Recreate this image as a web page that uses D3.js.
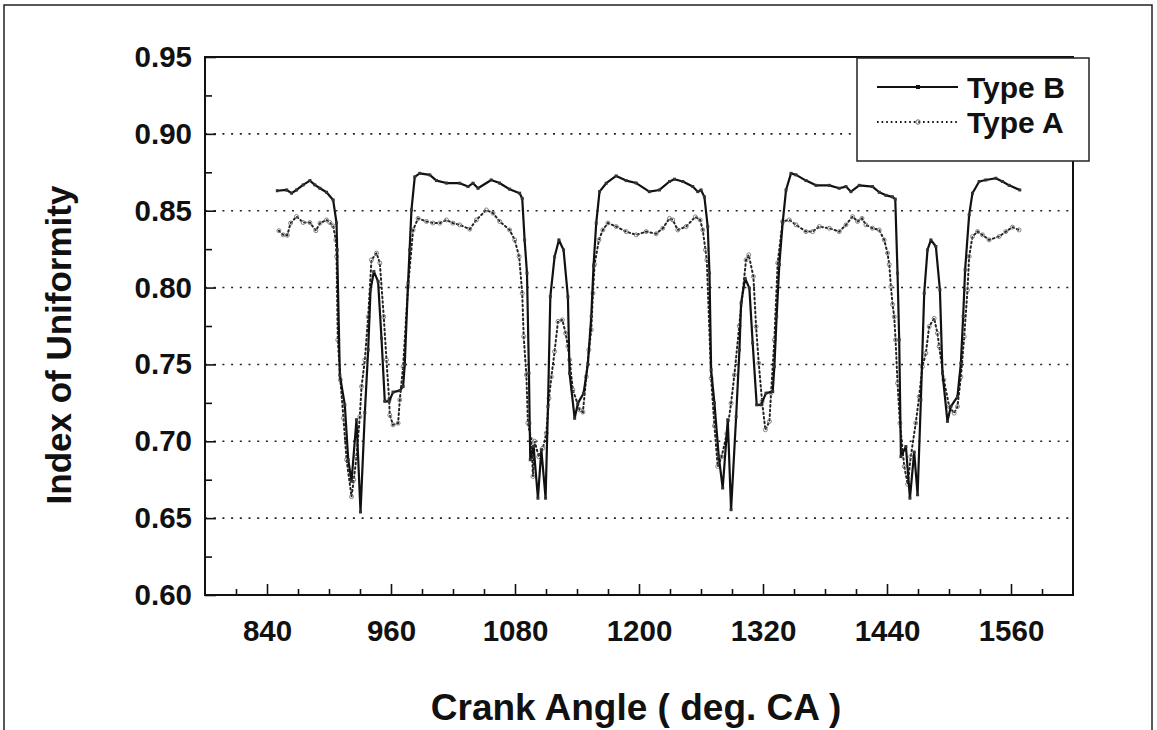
<!DOCTYPE html>
<html>
<head>
<meta charset="utf-8">
<script src="https://cdn.jsdelivr.net/npm/d3@7/dist/d3.min.js"></script>
<style>
  html, body { margin: 0; padding: 0; background: #fff; }
  svg text { font-family: "Liberation Sans", Arial, Helvetica, sans-serif; font-weight: bold; fill: #111; }
</style>
</head>
<body>
<svg id="chart" width="1157" height="730"></svg>
<script>
// ---------------- data ----------------
const seriesNames = ["Type B", "Type A"];

const typeB_angle = [850,859,863.8,868.6,875,881.5,886.3,891.2,897.6,904,907.3,907.9,910.5,915.3,918.6,921.8,926.6,930.5,934.7,937.9,940.2,943.4,947.5,950.8,954,958.2,962,968.5,971.7,973.3,976.5,978,979.8,983,987.8,997.5,1004,1013.6,1026.5,1034.5,1039.4,1044.2,1057,1065,1074.8,1084.5,1087,1089.3,1091.6,1093.5,1094.2,1094.8,1098,1102.2,1105.5,1109.6,1111.9,1114.2,1118.3,1122.5,1127,1131.2,1132.8,1137.7,1140.9,1146.4,1150.5,1153.8,1156,1158.6,1161.8,1168.3,1177.9,1187.6,1197.3,1210,1219.8,1229.5,1234.3,1242.4,1252,1256.9,1260,1263.3,1266.5,1268.2,1269.8,1273,1277.2,1281,1285.9,1289.1,1294,1297.2,1298.8,1302.7,1306.8,1310,1313.9,1318.1,1322.9,1329.4,1331,1333.2,1335.8,1339,1342.3,1347.1,1352,1361.6,1371.3,1384.2,1393.8,1400.3,1405.1,1413.2,1426,1432.5,1439,1445.3,1448,1450.2,1451.8,1453.5,1458.3,1462.2,1466.3,1469.6,1472.8,1476,1479.2,1482.5,1487.3,1491.2,1493.7,1498.5,1501.8,1508.2,1511.5,1513.7,1515.6,1519.5,1522.7,1529.2,1535.6,1545.3,1551.7,1558.2,1568.5];
const typeB_value = [0.863,0.8635,0.8614,0.8635,0.8668,0.8696,0.8668,0.8646,0.862,0.857,0.842,0.8245,0.743,0.7237,0.688,0.674,0.714,0.654,0.7186,0.7595,0.7985,0.8104,0.804,0.767,0.726,0.726,0.732,0.733,0.7356,0.75,0.803,0.8245,0.8505,0.872,0.8743,0.8733,0.8696,0.868,0.8679,0.8657,0.8679,0.8646,0.870,0.868,0.864,0.8614,0.858,0.831,0.8094,0.7443,0.7118,0.688,0.6966,0.663,0.6945,0.663,0.7226,0.7942,0.82,0.831,0.8245,0.794,0.7443,0.715,0.7248,0.7313,0.75,0.7812,0.814,0.8419,0.8624,0.8679,0.8726,0.8696,0.868,0.8624,0.8635,0.869,0.8705,0.869,0.8657,0.8624,0.8635,0.859,0.8397,0.8094,0.7465,0.7248,0.690,0.6696,0.714,0.6555,0.716,0.7595,0.7899,0.806,0.7996,0.764,0.7237,0.7237,0.7313,0.7324,0.7486,0.7812,0.815,0.8419,0.8635,0.8743,0.8733,0.8696,0.8665,0.8665,0.8646,0.8657,0.8624,0.8665,0.8657,0.862,0.860,0.859,0.8575,0.8094,0.766,0.690,0.6966,0.663,0.693,0.6652,0.727,0.7963,0.8245,0.831,0.8267,0.7985,0.7443,0.713,0.7226,0.729,0.7508,0.7812,0.8115,0.8473,0.8614,0.869,0.870,0.8711,0.869,0.8665,0.8635];

const typeA_angle = [851.5,855.7,859.6,862.8,868.6,875,881.5,887.3,891.2,897.6,900.8,904,906.6,907.3,908.5,911,914,917,921.8,924,926.6,929.8,931.5,934.7,937.9,941.1,946,949.2,953,955.6,958.2,958.8,962,966.9,968.5,971.7,976.5,981.4,986.2,994.3,1000.7,1007.2,1013.6,1020,1026.5,1036.2,1042.6,1052.3,1058.7,1065.2,1074.8,1079.7,1084,1087,1088.4,1091,1092.5,1095.8,1097.4,1099,1103,1107,1110.3,1112.9,1115.2,1118.3,1121.6,1125.8,1129,1131.2,1132.8,1136,1142.5,1145.7,1149,1151.5,1153.8,1155.4,1157,1161.2,1165,1169.9,1177.9,1187.6,1197.3,1207,1216.6,1223,1229.5,1232.7,1237.5,1245.6,1254.5,1259.2,1261.7,1264.3,1265.6,1269.8,1273,1276.2,1280,1285,1289.1,1292.3,1297,1303.6,1306.2,1310.7,1313.3,1315.9,1319.1,1322.3,1326.2,1327.8,1331,1334.2,1339,1345.5,1352,1361.6,1368,1374.5,1384.2,1393.8,1400.3,1406.7,1411.5,1415.8,1419.6,1426,1432.5,1437.3,1440.5,1442.2,1443.8,1445.4,1447,1448.3,1450.2,1452.5,1456.7,1460,1463,1467.8,1471.1,1474.3,1477.6,1480.8,1485.6,1488.8,1490.5,1495,1500.2,1505,1508.2,1511.5,1514.7,1517.9,1519.5,1522.7,1527.6,1532.4,1538.8,1548.5,1555,1561.4,1567.8];
const typeA_value = [0.837,0.8343,0.834,0.8419,0.8462,0.8423,0.8423,0.837,0.8419,0.844,0.8423,0.8401,0.831,0.8202,0.766,0.74,0.715,0.688,0.664,0.675,0.69,0.716,0.7356,0.753,0.781,0.818,0.8224,0.816,0.781,0.753,0.727,0.717,0.7107,0.7118,0.727,0.7486,0.8006,0.8375,0.845,0.843,0.842,0.8419,0.844,0.8419,0.8408,0.838,0.844,0.8505,0.8484,0.843,0.8375,0.831,0.8202,0.7963,0.7682,0.7432,0.7118,0.701,0.6771,0.70,0.69,0.6956,0.7053,0.728,0.742,0.7584,0.778,0.779,0.7703,0.7617,0.753,0.7335,0.7205,0.719,0.742,0.7595,0.7725,0.7963,0.815,0.831,0.8375,0.842,0.8397,0.8364,0.8343,0.8364,0.835,0.8386,0.845,0.844,0.8375,0.8397,0.846,0.844,0.8375,0.8245,0.818,0.741,0.71,0.6836,0.69,0.705,0.7248,0.7432,0.775,0.818,0.8213,0.8072,0.7746,0.7508,0.7259,0.7075,0.7129,0.7313,0.766,0.816,0.843,0.844,0.8408,0.8364,0.8364,0.8397,0.8386,0.8364,0.8408,0.8462,0.843,0.845,0.8408,0.8386,0.8375,0.831,0.8224,0.815,0.8006,0.789,0.781,0.766,0.7378,0.7118,0.6836,0.672,0.69,0.7118,0.729,0.7486,0.7573,0.7746,0.78,0.7703,0.7617,0.74,0.7226,0.7183,0.7226,0.742,0.768,0.7985,0.8202,0.8332,0.8364,0.8343,0.831,0.8332,0.8364,0.8393,0.8375];

const xMajorTicks = [840, 960, 1080, 1200, 1320, 1440, 1560];
const xMinorTicks = [810, 870, 900, 930, 990, 1020, 1050, 1110, 1140, 1170, 1230, 1260, 1290, 1350, 1380, 1410, 1470, 1500, 1530, 1590];
const yMajorTicks = [0.60, 0.65, 0.70, 0.75, 0.80, 0.85, 0.90, 0.95];
const yMinorTicks = [0.625, 0.675, 0.725, 0.775, 0.825, 0.875, 0.925];
const yGridValues = [0.65, 0.70, 0.75, 0.80, 0.85, 0.90];

const xTitle = "Crank Angle ( deg. CA )";
const yTitle = "Index of Uniformity";

// ---------------- layout ----------------
const svg = d3.select("#chart");
const L = 205, R = 1073, T = 57, B = 595;
const x = d3.scaleLinear().domain([780, 1620]).range([L, R]);
const y = d3.scaleLinear().domain([0.60, 0.95]).range([B, T]);

// outer frame
svg.append("rect").attr("x", 4).attr("y", 5).attr("width", 1148).attr("height", 740)
  .attr("fill", "none").attr("stroke", "#222").attr("stroke-width", 1.5);

// gridlines
svg.append("g").selectAll("line").data(yGridValues).join("line")
  .attr("x1", L).attr("x2", R)
  .attr("y1", d => y(d)).attr("y2", d => y(d))
  .attr("stroke", "#222").attr("stroke-width", 1.6)
  .attr("stroke-dasharray", "2,6.7");

// axes
const xAxisMajor = d3.axisBottom(x).tickValues(xMajorTicks).tickSize(-11).tickPadding(25).tickFormat(d3.format("d"));
const xAxisMinor = d3.axisBottom(x).tickValues(xMinorTicks).tickSize(-6).tickFormat("");
const yAxisMajor = d3.axisLeft(y).tickValues(yMajorTicks).tickSize(-11).tickPadding(13).tickFormat(d3.format(".2f"));
const yAxisMinor = d3.axisLeft(y).tickValues(yMinorTicks).tickSize(-7).tickFormat("");

function styleAxis(g) {
  g.select(".domain").remove();
  g.selectAll(".tick line").attr("stroke", "#111").attr("stroke-width", 1.6);
  g.selectAll("text").attr("font-size", 29.5).attr("fill", "#111")
   .attr("font-family", "'Liberation Sans', Arial, sans-serif").attr("font-weight", "bold");
}
svg.append("g").attr("transform", `translate(0,${B})`).call(xAxisMajor).call(styleAxis);
svg.append("g").attr("transform", `translate(0,${B})`).call(xAxisMinor).call(styleAxis);
svg.append("g").attr("transform", `translate(${L},0)`).call(yAxisMajor).call(styleAxis);
svg.append("g").attr("transform", `translate(${L},0)`).call(yAxisMinor).call(styleAxis);

// plot box
svg.append("rect").attr("x", L).attr("y", T).attr("width", R - L).attr("height", B - T)
  .attr("fill", "none").attr("stroke", "#111").attr("stroke-width", 2);

// series
const dataB = typeB_angle.map((a, i) => ({ a, v: typeB_value[i] }));
const dataA = typeA_angle.map((a, i) => ({ a, v: typeA_value[i] }));
const line = d3.line().x(d => x(d.a)).y(d => y(d.v));

const gA = svg.append("g");
gA.append("path").datum(dataA).attr("d", line)
  .attr("fill", "none").attr("stroke", "#222").attr("stroke-width", 2)
  .attr("stroke-dasharray", "1.6,3").attr("stroke-linecap", "round");
gA.selectAll("circle").data(dataA).join("circle")
  .attr("cx", d => x(d.a)).attr("cy", d => y(d.v)).attr("r", 2)
  .attr("fill", "none").attr("stroke", "#777").attr("stroke-width", 0.9);

const gB = svg.append("g");
gB.append("path").datum(dataB).attr("d", line)
  .attr("fill", "none").attr("stroke", "#111").attr("stroke-width", 2.2)
  .attr("stroke-linejoin", "round");
gB.selectAll("rect").data(dataB).join("rect")
  .attr("x", d => x(d.a) - 1.5).attr("y", d => y(d.v) - 1.5)
  .attr("width", 3).attr("height", 3).attr("fill", "#333");

// legend
const lg = svg.append("g");
lg.append("rect").attr("x", 857).attr("y", 58).attr("width", 232).attr("height", 103)
  .attr("fill", "#fff").attr("stroke", "#222").attr("stroke-width", 1.5);
const legendRows = [
  { name: seriesNames[0], yy: 87, dash: null },
  { name: seriesNames[1], yy: 122, dash: "1.6,3" }
];
legendRows.forEach((r, i) => {
  lg.append("line").attr("x1", 877).attr("x2", 958).attr("y1", r.yy).attr("y2", r.yy)
    .attr("stroke", "#111").attr("stroke-width", i === 0 ? 1.8 : 2)
    .attr("stroke-dasharray", r.dash);
  if (i === 0) {
    lg.append("rect").attr("x", 916).attr("y", r.yy - 2).attr("width", 4).attr("height", 4).attr("fill", "#111");
  } else {
    lg.append("circle").attr("cx", 918).attr("cy", r.yy).attr("r", 2.2)
      .attr("fill", "none").attr("stroke", "#666").attr("stroke-width", 1);
  }
  lg.append("text").attr("x", 967).attr("y", r.yy).attr("dy", "0.36em")
    .attr("font-size", 30).text(r.name);
});

// axis titles
svg.append("text").attr("x", (L + R) / 2 - 3).attr("y", 720)
  .attr("text-anchor", "middle").attr("font-size", 37).text(xTitle);
svg.append("text").attr("transform", `translate(71,345) rotate(-90)`)
  .attr("text-anchor", "middle").attr("font-size", 35).text(yTitle);
</script>
</body>
</html>
